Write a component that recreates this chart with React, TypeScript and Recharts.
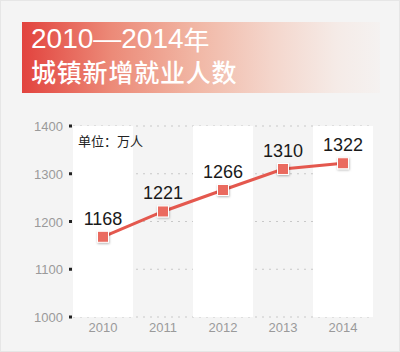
import React from 'react';
import { ComposedChart, Line, XAxis, YAxis, CartesianGrid, ReferenceArea, LabelList } from 'recharts';

const years = ['2010', '2011', '2012', '2013', '2014'];
const jobs = [1168, 1221, 1266, 1310, 1322];
const yTicks = [1000, 1100, 1200, 1300, 1400];
const whiteYears = ['2010', '2012', '2014'];

const data = years.map((y, i) => ({ year: y, value: jobs[i] }));

const SquareDot = (props: any) => {
  const { cx, cy } = props;
  if (cx == null || cy == null) return null;
  return (
    <rect x={cx - 5.5} y={cy - 5.5} width={11} height={11} fill="#ea6a5e" stroke="#fff" strokeWidth={1}
      filter="url(#dotShadow)" />
  );
};

const YTick = (props: any) => {
  const { x, y, payload } = props;
  return (
    <g>
      <text x={x - 2} y={y} dy={5} textAnchor="end" fill="#9a9a9a" fontSize={13}
        fontFamily="'Liberation Sans', Arial, sans-serif">{payload.value}</text>
      <rect x={x + 4} y={y - 1.5} width={3} height={3} fill="#222" />
    </g>
  );
};

const XTick = (props: any) => {
  const { x, y, payload } = props;
  return (
    <text x={x} y={y} dy={7} textAnchor="middle" fill="#9a9a9a" fontSize={13}
      fontFamily="'Liberation Sans', Arial, sans-serif">{payload.value}</text>
  );
};

export default function App() {
  return (
    <div style={{ position: 'absolute', left: 0, top: 0, width: 400, height: 352, background: '#f4f4f4',
      boxSizing: 'border-box', border: '1px solid #e6e6e6', overflow: 'hidden' }}>
      <div style={{ position: 'absolute', left: 21, top: 21, width: 358, height: 71,
        background: 'linear-gradient(90deg, #e2433e 0%, #ec8a78 25%, #f1b6a4 48%, #f4d6cc 70%, #f5ebe7 88%, rgba(245,240,238,0.6) 100%)' }}>
        <div style={{ position: 'absolute', left: 9, top: 3, height: 28, color: '#fff', fontSize: 28, lineHeight: '28px',
          whiteSpace: 'nowrap', fontFamily: "'Liberation Sans', Arial, sans-serif" }}>
          2010—2014<span style={{ display: 'inline-block', height: 28, overflow: 'visible', verticalAlign: 'top',
            fontFamily: "'Noto Sans CJK SC', sans-serif", fontSize: 26, lineHeight: '28px' }}>年</span>
        </div>
        <div style={{ position: 'absolute', left: 9, top: 34, height: 30, color: '#fff', fontSize: 25, lineHeight: '30px',
          fontWeight: 500, letterSpacing: 0.8, whiteSpace: 'nowrap', fontFamily: "'Noto Sans CJK SC', sans-serif" }}>
          城镇新增就业人数
        </div>
      </div>
      <div style={{ position: 'absolute', left: 0, top: 0 }}>
        <ComposedChart width={400} height={352} data={data} margin={{ top: 125, right: 28, bottom: 6, left: 0 }}>
          <defs>
            <filter id="dotShadow" x="-50%" y="-50%" width="200%" height="200%">
              <feDropShadow dx={0.5} dy={1} stdDeviation={0.8} floodColor="#000" floodOpacity={0.3} />
            </filter>
          </defs>
          {whiteYears.map((y) => (
            <ReferenceArea key={y} x1={y} x2={y} y1={1000} y2={1400} fill="#ffffff" fillOpacity={1} stroke="none" />
          ))}
          <CartesianGrid vertical={false} stroke="#c8c8c8" strokeDasharray="2 5" />
          <XAxis dataKey="year" scale="band" height={30} axisLine={false} tickLine={false} tick={<XTick />} interval={0} />
          <YAxis domain={[1000, 1400]} ticks={yTicks} width={72} axisLine={false} tickLine={false}
            tick={<YTick />} interval={0} />
          <Line dataKey="value" stroke="#e4584e" strokeWidth={3} dot={<SquareDot />} activeDot={false}
            isAnimationActive={false}>
            <LabelList dataKey="value" position="top" offset={12} fill="#1a1a1a" fontSize={18}
              fontFamily="'Liberation Sans', Arial, sans-serif" />
          </Line>
        </ComposedChart>
      </div>
      <div style={{ position: 'absolute', left: 77, top: 130, fontSize: 13, color: '#222',
        fontFamily: "'Noto Sans CJK SC', sans-serif" }}>单位：万人</div>
    </div>
  );
}
